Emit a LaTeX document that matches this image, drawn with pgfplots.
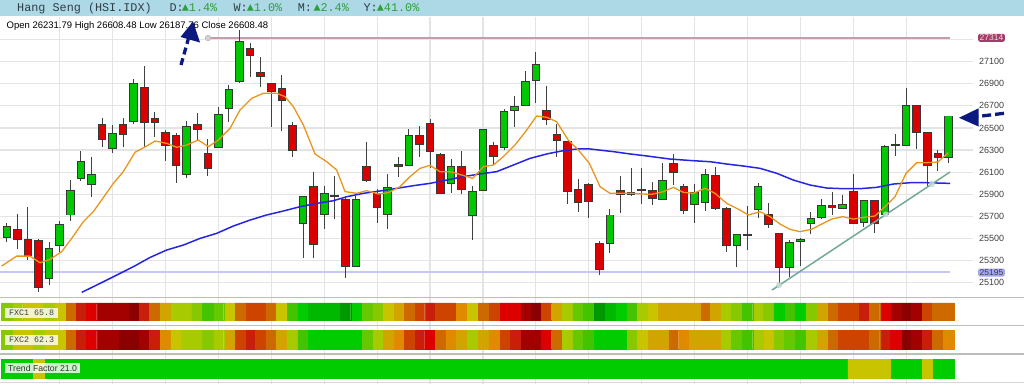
\documentclass[border=0pt]{standalone}
\usepackage{fontspec}
\setmainfont{Liberation Sans}
\newfontfamily\mono{Liberation Mono}
\usepackage{pgfplots}
\pgfplotsset{compat=1.18}
\usepackage{pgfplotstable}

\definecolor{hdrbg}{HTML}{ADD8E6}
\definecolor{hdrtxt}{HTML}{2F3E46}
\definecolor{upgreen}{HTML}{2E9E3A}
\definecolor{gridc}{HTML}{E4E4E4}
\definecolor{sepc}{HTML}{BDBDBD}
\definecolor{tickc}{HTML}{404040}
\definecolor{wickc}{HTML}{404040}
\definecolor{edgec}{HTML}{383838}
\definecolor{cgreen}{HTML}{00C800}
\definecolor{cred}{HTML}{DA0000}
\definecolor{maorange}{HTML}{E8961E}
\definecolor{mablue}{HTML}{2626E0}
\definecolor{reslc}{HTML}{C49CAE}
\definecolor{suplc}{HTML}{C6C6F8}
\definecolor{trendc}{HTML}{74A898}
\definecolor{navyarrow}{HTML}{0C1A80}
\definecolor{reslab}{HTML}{A23C6C}
\definecolor{suplab}{HTML}{A4A4F4}
% heat colours
\definecolor{dr}{HTML}{8B0000}
\definecolor{r1}{HTML}{A30000}
\definecolor{r2}{HTML}{C81E0A}
\definecolor{r3}{HTML}{DD0000}
\definecolor{ro}{HTML}{CC4400}
\definecolor{ob}{HTML}{CC6A00}
\definecolor{or}{HTML}{E08A00}
\definecolor{am}{HTML}{D2A400}
\definecolor{ye}{HTML}{C8C400}
\definecolor{yg}{HTML}{A8CA00}
\definecolor{lg}{HTML}{88C800}
\definecolor{g1}{HTML}{66C800}
\definecolor{g2}{HTML}{44C400}
\definecolor{gb}{HTML}{00CC00}
\definecolor{g3}{HTML}{00B800}
\definecolor{gd}{HTML}{009900}

% rising candles (close >= open)
\pgfplotstableread{
i o h l c
0 25510 25637 25465 25613
4 25139 25465 25082 25411
5 25435 25661 25381 25628
6 25713 26026 25661 25936
7 26047 26295 26017 26198
8 25987 26234 25878 26081
10 26316 26527 26271 26446
12 26560 26941 26536 26904
17 26078 26563 26047 26515
20 26325 26690 26320 26621
21 26675 26889 26557 26850
22 26919 27390 26910 27281
28 25637 25888 25323 25884
30 25719 25978 25586 25909
31 25880 26066 25676 25886
33 25245 25888 25239 25854
36 25719 26084 25586 25963
38 26165 26494 26156 26434
42 25999 26219 25912 26153
44 25704 25975 25486 25927
45 25939 26490 25930 26488
47 26322 26669 26301 26651
48 26657 26790 26509 26693
49 26699 27016 26695 26922
50 26931 27188 26729 27076
57 25456 25767 25366 25713
59 25894 26135 25888 25921
60 25939 26135 25815 25942
62 25854 26180 25850 26023
65 25806 25990 25637 25918
66 25830 26126 25749 26081
69 25438 25540 25245 25538
70 25532 25797 25396 25538
71 25764 25999 25688 25975
74 25236 25486 25154 25465
75 25474 25504 25254 25495
76 25637 25743 25541 25682
77 25694 25854 25673 25800
79 25773 25891 25767 25812
81 25643 25850 25607 25848
83 25719 26343 25715 26334
84 26343 26449 26247 26349
85 26346 26862 26340 26705
89 26231.79 26608.48 26187.76 26608.48
}\upcandles

% falling candles (close < open)
\pgfplotstableread{
i o h l c
1 25583 25719 25405 25495
2 25489 25785 25305 25344
3 25483 25495 25013 25058
9 26536 26587 26325 26397
11 26530 26594 26325 26443
13 26865 27061 26331 26551
14 26584 26642 26415 26551
15 26458 26482 26198 26346
16 26434 26458 25999 26165
18 26530 26639 26391 26488
19 26271 26400 26066 26138
23 27215 27266 26965 27152
24 27001 27146 26868 26965
25 26898 26904 26512 26832
26 26856 26980 26476 26753
27 26524 26557 26241 26298
29 25969 26099 25323 25444
32 25854 25863 25139 25251
34 26156 26370 26011 26029
35 25906 25945 25643 25785
37 26171 26241 26056 26156
39 26434 26518 26241 26355
40 26542 26584 26135 26289
41 26262 26277 25900 25909
43 26153 26292 25903 25948
46 26346 26370 26165 26241
51 26657 26880 26527 26578
52 26440 26533 26241 26385
53 26379 26385 25815 25927
54 25945 26041 25737 25830
55 25993 26005 25685 25833
56 25456 25480 25170 25221
58 25939 26069 25731 25900
61 25939 26008 25803 25863
63 26180 26265 25984 26099
64 25975 25990 25719 25758
67 26066 26150 25755 25773
68 25776 25782 25375 25438
72 25713 25821 25598 25628
73 25544 25550 25070 25236
78 25797 25924 25713 25779
80 25921 26084 25633 25637
82 25848 25850 25547 25637
86 26705 26710 26307 26461
87 26458 26460 25969 26159
88 26268 26301 26108 26237
}\downcandles

\pgfplotsset{
  ebar/.style 2 args={draw=none, no markers,
    /pgfplots/error bars/y dir=both,
    /pgfplots/error bars/y explicit,
    /pgfplots/error bars/error mark=none,
    /pgfplots/error bars/error bar style={line width=#1, draw=#2, solid}},
  stripax/.style={anchor=north west, scale only axis, width=973pt,
    xmin=-0.643, xmax=91.32, ymin=0, ymax=1, hide axis},
  cell/.style={ybar, bar width=1, bar shift=0pt, draw=#1, line width=0.3pt, fill=#1},
}

\begin{document}
\begin{tikzpicture}
\useasboundingbox (0,0) rectangle (1024pt,-384pt);
\fill[white] (0,0) rectangle (1024pt,-384pt);

% vertical grid for chart and strips
\begin{axis}[at={(0pt,-17pt)}, anchor=north west, scale only axis,
  width=973pt, height=367pt, xmin=-0.643, xmax=91.32, ymin=0, ymax=1,
  axis line style={draw=none}, xtick={5,10,...,85}, ytick=\empty,
  xticklabels={}, major tick length=0pt, xmajorgrids,
  grid style={line width=1.2pt, color=gridc}]
\end{axis}

% main candlestick chart
\begin{axis}[at={(0pt,-17pt)}, anchor=north west, scale only axis,
  width=973pt, height=280pt,
  xmin=-0.643, xmax=91.32, ymin=24971, ymax=27504,
  axis line style={draw=none}, xtick=\empty,
  ytick={25100,25300,...,27100},
  extra y ticks={27300}, extra y tick labels={}, extra y tick style={grid=major},
  scaled y ticks=false,
  yticklabel pos=right, ymajorgrids,
  grid style={line width=1.2pt, color=gridc},
  major tick length=0pt,
  yticklabel style={font=\fontsize{9}{10}\selectfont, text=tickc, anchor=west, inner sep=0pt, xshift=6pt},
  clip=false,
  /pgf/number format/.cd, fixed, 1000 sep={}, assume math mode=true]

% resistance / support
\addplot[reslc, line width=1.6pt] coordinates {(19.02,27314) (89.16,27314)};
\addplot[only marks, mark=*, mark size=2.8pt, mark options={fill=gray!35, draw=gray!55, line width=0.6pt}] coordinates {(19.02,27314)};
\addplot[suplc, line width=1.8pt] coordinates {(-0.643,25195) (89.16,25195)};

% wicks
\addplot[ebar={1pt}{wickc}] table[x=i, y expr={(\thisrow{h}+\thisrow{l})/2}, y error expr={(\thisrow{h}-\thisrow{l})/2}] {\upcandles};
\addplot[ebar={1pt}{wickc}] table[x=i, y expr={(\thisrow{h}+\thisrow{l})/2}, y error expr={(\thisrow{h}-\thisrow{l})/2}] {\downcandles};
% bodies
\addplot[ebar={8.6pt}{edgec}] table[x=i, y expr={(\thisrow{o}+\thisrow{c})/2}, y error expr={abs(\thisrow{c}-\thisrow{o})/2+4.5}] {\upcandles};
\addplot[ebar={6.6pt}{cgreen}] table[x=i, y expr={(\thisrow{o}+\thisrow{c})/2}, y error expr={max(abs(\thisrow{c}-\thisrow{o})/2-4.5,0)}] {\upcandles};
\addplot[ebar={8.6pt}{edgec}] table[x=i, y expr={(\thisrow{o}+\thisrow{c})/2}, y error expr={abs(\thisrow{c}-\thisrow{o})/2+4.5}] {\downcandles};
\addplot[ebar={6.6pt}{cred}] table[x=i, y expr={(\thisrow{o}+\thisrow{c})/2}, y error expr={max(abs(\thisrow{c}-\thisrow{o})/2-4.5,0)}] {\downcandles};

% long moving average
\addplot[mablue, line width=1.5pt] coordinates {
(7.08,25013) (8.81,25094) (10.38,25169) (11.96,25245) (13.54,25329) (15.11,25396)
(16.69,25441) (18.26,25501) (19.84,25547) (21.41,25613) (22.99,25667) (24.56,25713)
(26.14,25749) (27.71,25788) (29.29,25818) (30.86,25842) (32.12,25878) (33.7,25909)
(35.27,25930) (36.85,25954) (38.42,25978) (40.0,25999) (41.58,26029) (43.15,26060)
(44.73,26084) (46.3,26105) (47.88,26165) (49.45,26225) (51.03,26265) (52.6,26295)
(53.86,26310) (55.12,26310) (57.33,26286) (58.9,26265) (60.48,26247) (62.68,26219)
(64.89,26204) (66.47,26195) (68.04,26174) (69.62,26156) (71.19,26135) (72.77,26090)
(74.34,26029) (75.92,25984) (77.49,25957) (79.07,25951) (80.64,25951) (82.22,25963)
(83.79,25993) (85.37,26005) (86.95,26005) (89.15,25999)};
% short moving average
\addplot[maorange, line width=1.3pt] coordinates {
(-0.49,25251) (0.93,25341) (2.19,25341) (3.14,25281) (4.08,25311) (5.19,25381)
(6.13,25501) (7.23,25652) (8.18,25743) (10.07,25999) (11.01,26105) (12.12,26280)
(13.22,26337) (14.01,26382) (15.11,26361) (16.06,26325) (17.0,26346) (18.1,26391)
(19.05,26331) (19.99,26391) (21.1,26497) (22.04,26663) (23.14,26768) (24.25,26814)
(25.51,26814) (26.29,26784) (27.08,26693) (28.03,26527) (29.13,26265) (30.23,26195)
(31.18,26120) (31.97,25924) (33.07,25909) (34.01,25933) (35.12,25903) (36.06,25915)
(37.16,25969) (38.11,26060) (39.05,26135) (40.0,26162) (40.94,26105) (41.89,26105)
(42.99,26075) (44.03,26044) (45.04,26150) (45.99,26165) (46.93,26241) (48.03,26346)
(49.14,26482) (50.08,26609) (51.03,26597) (51.97,26557) (53.07,26391) (54.02,26301)
(55.06,26180) (56.07,25969) (57.01,25909) (58.12,25909) (59.06,25909) (60.01,25903)
(60.95,25900) (62.05,25924) (63.0,25963) (63.94,25918) (64.89,25909) (65.99,25954)
(66.94,25909) (68.04,25818) (68.99,25773) (70.09,25713) (71.19,25743) (72.14,25698)
(73.08,25631) (74.03,25583) (74.97,25562) (76.07,25583) (77.02,25631) (77.97,25676)
(79.0,25698) (80.01,25676) (80.96,25691) (82.06,25704) (83.0,25788) (83.95,25878)
(84.99,26090) (86.0,26186) (86.95,26186) (87.99,26192) (88.99,26277)};
% trend line
\addplot[trendc, line width=1.5pt] coordinates {(72.32,25034) (89.15,26102)};
\addplot[only marks, mark=*, mark size=2.6pt, mark options={fill=trendc!35, draw=trendc!60, fill opacity=0.8}] coordinates {(72.99,25079) (83.07,25719) (87.42,25993)};
\end{axis}

% separators
\draw[sepc, line width=1.5pt] (0,-297.3pt) -- (1024pt,-297.3pt);
\draw[sepc, line width=1.5pt] (0,-325.5pt) -- (1024pt,-325.5pt);
\draw[sepc, line width=1.5pt] (0,-354.2pt) -- (1024pt,-354.2pt);
\draw[sepc!60, line width=1.2pt] (0,-382.5pt) -- (1024pt,-382.5pt);

% FXC1 strip
\begin{axis}[stripax, at={(0pt,-302.8pt)}, height=17.8pt]
\addplot[cell=dr] coordinates {(12,1)(50,1)(85,1)};
\addplot[cell=r1] coordinates {(9,1)(10,1)(11,1)(49,1)(84,1)(86,1)};
\addplot[cell=r2] coordinates {(7,1)(13,1)(40,1)(81,1)};
\addplot[cell=r3] coordinates {(8,1)(47,1)(48,1)(83,1)};
\addplot[cell=ro] coordinates {(23,1)(24,1)(39,1)(41,1)(42,1)(46,1)(51,1)(79,1)(80,1)(87,1)};
\addplot[cell=ob] coordinates {(6,1)(14,1)(22,1)(25,1)(38,1)(45,1)(66,1)(78,1)(82,1)(88,1)(89,1)};
\addplot[cell=or] coordinates {(43,1)};
\addplot[cell=am] coordinates {(15,1)(37,1)(52,1)(62,1)(63,1)(64,1)(65,1)(67,1)(77,1)};
\addplot[cell=ye] coordinates {(2,1)(3,1)(5,1)(21,1)(26,1)(36,1)(44,1)(61,1)};
\addplot[cell=yg] coordinates {(1,1)(4,1)(16,1)(17,1)(53,1)(60,1)(68,1)(71,1)};
\addplot[cell=lg] coordinates {(0,1)(18,1)(35,1)(69,1)(72,1)(76,1)};
\addplot[cell=g1] coordinates {(20,1)(34,1)(54,1)};
\addplot[cell=g2] coordinates {(19,1)(27,1)(55,1)(59,1)(70,1)(74,1)};
\addplot[cell=gb] coordinates {(28,1)(33,1)(58,1)(73,1)(75,1)};
\addplot[cell=g3] coordinates {(29,1)(30,1)(31,1)(57,1)};
\addplot[cell=gd] coordinates {(32,1)(56,1)};
\end{axis}

% FXC2 strip
\begin{axis}[stripax, at={(0pt,-330pt)}, height=19.3pt]
\addplot[cell=dr] coordinates {(11,1)(12,1)(85,1)};
\addplot[cell=r1] coordinates {(9,1)(10,1)(13,1)(49,1)(50,1)(86,1)};
\addplot[cell=r2] coordinates {(7,1)(14,1)(23,1)(39,1)(48,1)(83,1)(87,1)};
\addplot[cell=r3] coordinates {(8,1)(40,1)(51,1)(84,1)};
\addplot[cell=ro] coordinates {(22,1)(24,1)(38,1)(47,1)(79,1)(80,1)(81,1)};
\addplot[cell=ob] coordinates {(6,1)(25,1)(41,1)(52,1)(63,1)(78,1)(82,1)(88,1)};
\addplot[cell=or] coordinates {(15,1)(37,1)(42,1)(46,1)(64,1)(89,1)};
\addplot[cell=am] coordinates {(21,1)(26,1)(36,1)(43,1)(45,1)(61,1)(62,1)(65,1)(66,1)(67,1)(77,1)};
\addplot[cell=ye] coordinates {(1,1)(2,1)(4,1)(5,1)(16,1)(60,1)(72,1)};
\addplot[cell=yg] coordinates {(3,1)(17,1)(18,1)(20,1)(27,1)(35,1)(44,1)(53,1)(68,1)(71,1)(76,1)};
\addplot[cell=lg] coordinates {(0,1)(19,1)(59,1)(73,1)};
\addplot[cell=g1] coordinates {(34,1)(54,1)(69,1)(74,1)};
\addplot[cell=g2] coordinates {(28,1)(55,1)(70,1)(75,1)};
\addplot[cell=gb] coordinates {(29,1)(30,1)(31,1)(32,1)(33,1)(56,1)(57,1)(58,1)};
\end{axis}

% Trend factor strip
\begin{axis}[stripax, at={(0pt,-359pt)}, height=19.8pt]
\addplot[cell=gb] coordinates {(0,1)(1,1)(2,1)(4,1)(5,1)(6,1)(7,1)(8,1)(9,1)(10,1)(11,1)(12,1)(13,1)(14,1)(15,1)(16,1)(17,1)(18,1)(19,1)(20,1)(21,1)(22,1)(23,1)(24,1)(25,1)(26,1)(27,1)(28,1)(29,1)(30,1)(31,1)(32,1)(33,1)(34,1)(35,1)(36,1)(37,1)(38,1)(39,1)(40,1)(41,1)(42,1)(43,1)(44,1)(45,1)(46,1)(47,1)(48,1)(49,1)(50,1)(51,1)(52,1)(53,1)(54,1)(55,1)(56,1)(57,1)(58,1)(59,1)(60,1)(61,1)(62,1)(63,1)(64,1)(65,1)(66,1)(67,1)(68,1)(69,1)(70,1)(71,1)(72,1)(73,1)(74,1)(75,1)(76,1)(77,1)(78,1)(79,1)(84,1)(85,1)(86,1)(88,1)(89,1)};
\addplot[cell=ye] coordinates {(3,1)(80,1)(81,1)(82,1)(83,1)(87,1)};
\end{axis}

% strip labels
\node[anchor=west, fill=white, fill opacity=0.8, text opacity=1, text=tickc, inner xsep=4pt, inner ysep=0pt, minimum height=10pt] at (5pt,-312.7pt) {\mono\fontsize{8.3}{9}\selectfont FXC1 65.8};
\node[anchor=west, fill=white, fill opacity=0.8, text opacity=1, text=tickc, inner xsep=4pt, inner ysep=0pt, minimum height=10pt] at (5pt,-340pt) {\mono\fontsize{8.3}{9}\selectfont FXC2 62.3};
\node[anchor=west, fill=white, fill opacity=0.8, text opacity=1, text=black!80, inner xsep=3pt, inner ysep=0pt, minimum height=10pt] at (5pt,-368.3pt) {\fontsize{8.7}{9}\selectfont Trend Factor 21.0};

% right value labels
\node[fill=reslab, rounded corners=2pt, inner xsep=1.5pt, inner ysep=1pt, text=pink!60] at (991.5pt,-37.8pt) {\fontsize{8.5}{9}\selectfont 27314};
\node[fill=suplab, rounded corners=2pt, inner xsep=1.5pt, inner ysep=1pt, text=black!75] at (991.5pt,-272.5pt) {\fontsize{8.5}{9}\selectfont 25195};

% header
\fill[hdrbg] (0,0) rectangle (1024pt,-15.7pt);
\node[anchor=base west, inner sep=0, text=hdrtxt] at (17pt,-11pt) {\mono\fontsize{11.8}{13}\selectfont Hang Seng (HSI.IDX)};
\node[anchor=base west, inner sep=0, text=hdrtxt] at (169.3pt,-11pt) {\mono\fontsize{11.8}{13}\selectfont D:};
\node[anchor=base west, inner sep=0, text=upgreen] at (181.7pt,-11pt) {\mono\fontsize{11.8}{13}\selectfont ▲1.4\%};
\node[anchor=base west, inner sep=0, text=hdrtxt] at (233.3pt,-11pt) {\mono\fontsize{11.8}{13}\selectfont W:};
\node[anchor=base west, inner sep=0, text=upgreen] at (246.7pt,-11pt) {\mono\fontsize{11.8}{13}\selectfont ▲1.0\%};
\node[anchor=base west, inner sep=0, text=hdrtxt] at (297.7pt,-11pt) {\mono\fontsize{11.8}{13}\selectfont M:};
\node[anchor=base west, inner sep=0, text=upgreen] at (313.3pt,-11pt) {\mono\fontsize{11.8}{13}\selectfont ▲2.4\%};
\node[anchor=base west, inner sep=0, text=hdrtxt] at (363.3pt,-11pt) {\mono\fontsize{11.8}{13}\selectfont Y:};
\node[anchor=base west, inner sep=0, text=upgreen] at (376.7pt,-11pt) {\mono\fontsize{11.8}{13}\selectfont ▲41.0\%};

% OHLC line
\node[anchor=base west, inner sep=0, text=black] at (6.5pt,-28.3pt) {\fontsize{9.5}{11}\selectfont Open 26231.79 High 26608.48 Low 26187.76 Close 26608.48};

% arrows
\draw[navyarrow, line width=3.3pt, dash pattern=on 7pt off 4pt] (181pt,-65pt) -- (188.3pt,-39pt);
\fill[navyarrow] (193pt,-21.5pt) -- (200pt,-42.5pt) -- (180.5pt,-37pt) -- cycle;
\draw[navyarrow, line width=3.3pt, dash pattern=on 9pt off 4pt] (1004pt,-113.3pt) -- (976pt,-116.7pt);
\fill[navyarrow] (959pt,-117.8pt) -- (978.5pt,-108.3pt) -- (978.5pt,-126.5pt) -- cycle;
\end{tikzpicture}
\end{document}
